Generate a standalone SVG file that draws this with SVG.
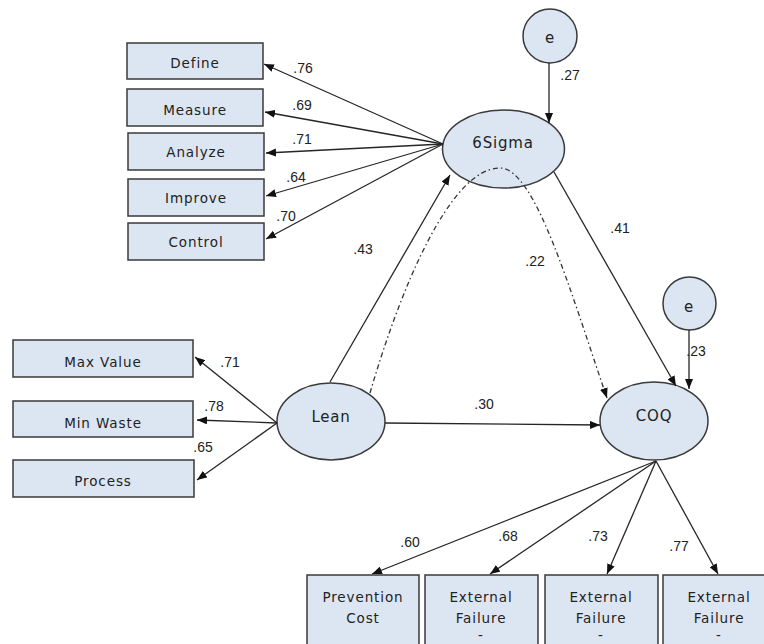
<svg xmlns="http://www.w3.org/2000/svg" width="764" height="644" viewBox="0 0 764 644">
<style>
.box{fill:#dce6f2;stroke:#3a3a3a;stroke-width:1.5}
.ell{fill:#dce6f2;stroke:#3a3a3a;stroke-width:1.5}
.bt{font-family:"DejaVu Sans",sans-serif;font-size:13.5px;letter-spacing:0.9px;fill:#222;text-anchor:middle}
.et{font-family:"DejaVu Sans",sans-serif;font-size:15px;letter-spacing:0.8px;fill:#222;text-anchor:middle}
.lb{font-family:"Liberation Sans",Arial,sans-serif;font-size:14px;fill:#222;text-anchor:middle}
.ln{stroke:#262626;stroke-width:1.3;fill:none;marker-end:url(#ah)}
.dd{stroke:#333;stroke-width:1.3;fill:none;stroke-dasharray:5 3 1.5 3;marker-end:url(#ah)}
</style>
<defs>
<marker id="ah" viewBox="0 0 10 8" refX="10" refY="4" markerWidth="10" markerHeight="8" markerUnits="userSpaceOnUse" orient="auto"><path d="M0,0 L10,4 L0,8 z" fill="#111"/></marker>
</defs>
<rect width="764" height="644" fill="#fff"/>
<g id="define"><rect class="box" x="127" y="43" width="136" height="36"/><text class="bt" x="195" y="68">Define</text></g>
<g id="measure"><rect class="box" x="127" y="89" width="136" height="37"/><text class="bt" x="195" y="115">Measure</text></g>
<g id="analyze"><rect class="box" x="128" y="133" width="136" height="37"/><text class="bt" x="196" y="157">Analyze</text></g>
<g id="improve"><rect class="box" x="128" y="179" width="136" height="37"/><text class="bt" x="196" y="203">Improve</text></g>
<g id="control"><rect class="box" x="128" y="223" width="136" height="37"/><text class="bt" x="196" y="247">Control</text></g>
<g id="maxvalue"><rect class="box" x="13" y="340" width="180" height="37"/><text class="bt" x="103" y="367">Max Value</text></g>
<g id="minwaste"><rect class="box" x="13" y="401" width="180" height="36"/><text class="bt" x="103" y="428">Min Waste</text></g>
<g id="process"><rect class="box" x="13" y="460" width="181" height="37"/><text class="bt" x="103" y="486">Process</text></g>
<g id="sixsigma"><ellipse class="ell" cx="503.5" cy="149" rx="61" ry="39"/><text class="et" x="503" y="148">6Sigma</text></g>
<g id="e1"><circle class="ell" cx="550" cy="36" r="27"/><text class="et" x="550" y="43">e</text></g>
<g id="e2"><circle class="ell" cx="689.5" cy="303.5" r="26.5"/><text class="et" x="689" y="312">e</text></g>
<g id="lean"><ellipse class="ell" cx="331" cy="421.5" rx="54" ry="38.5"/><text class="et" x="331" y="422">Lean</text></g>
<g id="coq"><ellipse class="ell" cx="654" cy="421" rx="54" ry="39"/><text class="et" x="654" y="421">COQ</text></g>
<g id="prevention"><rect class="box" x="307" y="575" width="112" height="80"/><text class="bt" x="363" y="602">Prevention</text><text class="bt" x="363" y="623">Cost</text></g>
<g id="ext1"><rect class="box" x="425" y="575" width="113" height="80"/><text class="bt" x="481" y="602">External</text><text class="bt" x="481" y="623">Failure</text><text class="bt" x="481" y="640">-</text></g>
<g id="ext2"><rect class="box" x="545" y="575" width="113" height="80"/><text class="bt" x="601" y="602">External</text><text class="bt" x="601" y="623">Failure</text><text class="bt" x="601" y="640">-</text></g>
<g id="ext3"><rect class="box" x="663" y="575" width="113" height="80"/><text class="bt" x="719" y="602">External</text><text class="bt" x="719" y="623">Failure</text><text class="bt" x="719" y="640">-</text></g>
<g id="connectors">
<line class="ln" x1="443" y1="144" x2="264" y2="64"/>
<line class="ln" x1="443" y1="144" x2="265" y2="112"/>
<line class="ln" x1="443" y1="144" x2="266" y2="153"/>
<line class="ln" x1="443" y1="144" x2="266" y2="196"/>
<line class="ln" x1="443" y1="144" x2="266" y2="239"/>
<line class="ln" x1="277" y1="423" x2="195" y2="357"/>
<line class="ln" x1="277" y1="423" x2="197" y2="420"/>
<line class="ln" x1="277" y1="423" x2="197" y2="480"/>
<line class="ln" x1="549" y1="63" x2="549" y2="123"/>
<line class="ln" x1="689" y1="330" x2="689" y2="389"/>
<line class="ln" x1="554" y1="172" x2="676" y2="386"/>
<line class="ln" x1="330" y1="382" x2="450" y2="175"/>
<line class="ln" x1="385" y1="423" x2="600" y2="425"/>
<line class="ln" x1="656" y1="461" x2="372" y2="574"/>
<line class="ln" x1="656" y1="461" x2="490" y2="574"/>
<line class="ln" x1="656" y1="461" x2="607" y2="574"/>
<line class="ln" x1="656" y1="461" x2="718" y2="574"/>
<path class="dd" d="M370,393 C400,290 450,168 500,168 C535,168 570,290 607,398"/>
<text class="lb" x="303" y="73">.76</text>
<text class="lb" x="302" y="110">.69</text>
<text class="lb" x="302" y="144">.71</text>
<text class="lb" x="296" y="182">.64</text>
<text class="lb" x="286" y="221">.70</text>
<text class="lb" x="363" y="254">.43</text>
<text class="lb" x="570" y="80">.27</text>
<text class="lb" x="620" y="233">.41</text>
<text class="lb" x="535" y="266">.22</text>
<text class="lb" x="696" y="356">.23</text>
<text class="lb" x="484" y="409">.30</text>
<text class="lb" x="230" y="367">.71</text>
<text class="lb" x="214" y="411">.78</text>
<text class="lb" x="203" y="452">.65</text>
<text class="lb" x="410" y="547">.60</text>
<text class="lb" x="508" y="541">.68</text>
<text class="lb" x="598" y="541">.73</text>
<text class="lb" x="679" y="551">.77</text>
</g>
</svg>
